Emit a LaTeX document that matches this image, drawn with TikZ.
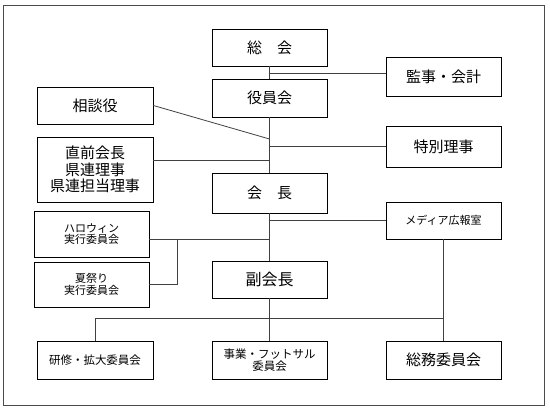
\documentclass[tikz,border=0pt]{standalone}
\usepackage{fontspec}
\newfontfamily\jp{Noto Sans CJK JP}
\begin{document}
\begin{tikzpicture}[x=1pt,y=-1pt,
  box/.style={draw=black,line width=0.8pt,minimum width=115pt,inner sep=0pt,align=center,font=\jp\fontsize{15}{17}\selectfont},
  small/.style={font=\jp\fontsize{11}{11.5}\selectfont},
  conn/.style={draw=black!75,line width=0.8pt},
  frame/.style={draw=black!70,line width=1pt}]
\useasboundingbox (0,0) rectangle (550,412);
\draw[frame] (3,6) rectangle (544,405);
% boxes
\node[box,minimum height=37pt] (soukai) at (269.5,47.5) {総　会};
\node[box,minimum height=38pt] (yakuin) at (269.5,98) {役員会};
\node[box,minimum height=39pt] (kansa) at (443.5,76.5) {監事・会計};
\node[box,minimum height=37pt,minimum width=116pt] (soudan) at (95,105.5) {相談役};
\node[box,minimum height=65pt,minimum width=116pt,font=\jp\fontsize{15}{16.5}\selectfont] (chokuzen) at (95,169.5) {直前会長\\県連理事\\県連担当理事};
\node[box,minimum height=41pt] (toku) at (443.5,146.5) {特別理事};
\node[box,minimum height=40pt] (kaicho) at (269.5,193) {会　長};
\node[box,small,minimum height=37pt] (media) at (443.5,220.5) {メディア広報室};
\node[box,small,minimum height=46pt] (hallo) at (91.5,234) {ハロウィン\\実行委員会};
\node[box,small,minimum height=45pt] (natsu) at (91.5,284.5) {夏祭り\\実行委員会};
\node[box,minimum height=37pt,font=\jp\fontsize{16}{17}\selectfont] (fuku) at (269.5,279.5) {副会長};
\node[box,minimum height=38pt,minimum width=116pt,font=\jp\fontsize{11.5}{12}\selectfont] (kenshu) at (95,360) {研修・拡大委員会};
\node[box,minimum height=38pt,font=\jp\fontsize{11.5}{12}\selectfont] (jigyo) at (269.5,360) {事業・フットサル\\委員会};
\node[box,minimum height=38pt] (soumu) at (443.5,360) {総務委員会};
% junction coordinates
\coordinate (jk) at (269.5,73);
\coordinate (js) at (269.5,139);
\coordinate (jc) at (269.5,160);
\coordinate (jh) at (269.5,239);
\coordinate (jn) at (177,239);
\coordinate (bus) at (269.5,318);
% connectors
\draw[conn] (soukai.south) -- (yakuin.north);
\draw[conn] (yakuin.south) -- (kaicho.north);
\draw[conn] (kaicho.south) -- (fuku.north);
\draw[conn] (fuku.south) -- (jigyo.north);
\draw[conn] (jk) -- (jk -| kansa.west);
\draw[conn] (soudan.east) -- (js);
\draw[conn] (toku.west) -- (toku.west -| yakuin.south);
\draw[conn] (jc -| chokuzen.east) -- (jc);
\draw[conn] (media.west) -- (media.west -| kaicho.south);
\draw[conn] (jh -| hallo.east) -- (jh);
\draw[conn] (natsu.east) -| (jn);
\draw[conn] (kenshu.north) -- (kenshu.north |- bus) -- (soumu.north |- bus);
\draw[conn] (media.south) -- (soumu.north);
\end{tikzpicture}
\end{document}
